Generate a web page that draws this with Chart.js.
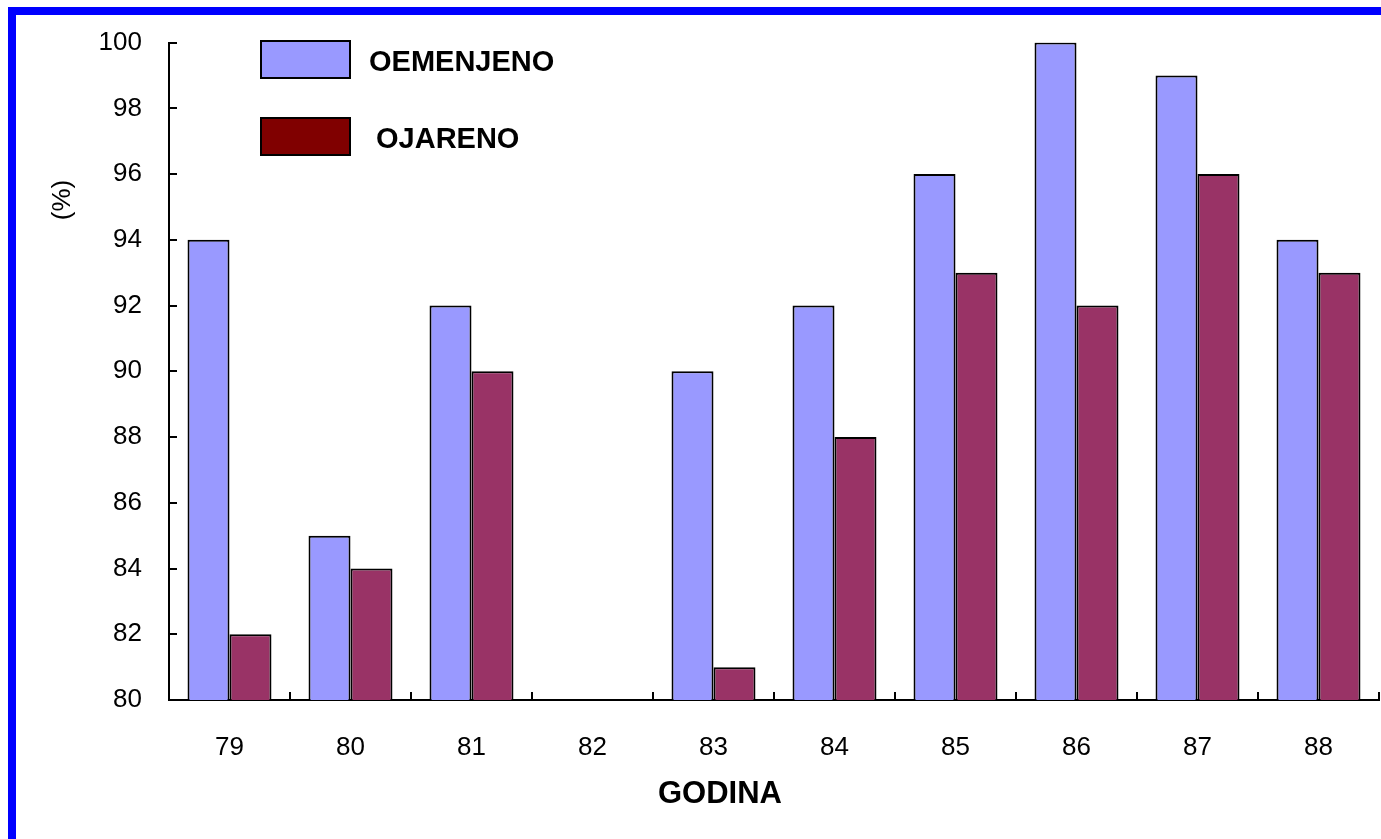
<!DOCTYPE html>
<html>
<head>
<meta charset="utf-8">
<script src="https://cdn.jsdelivr.net/npm/chart.js@4.4.1/dist/chart.umd.min.js"></script>
<style>
    html, body { margin: 0; padding: 0; background: #fff; }
    #wrap { position: relative; width: 1381px; height: 839px; overflow: hidden; }
    #frame {
        position: absolute; left: 8px; top: 7px; right: -20px; bottom: -20px;
        border-top: 8px solid #0000ff; border-left: 8px solid #0000ff;
        pointer-events: none;
    }
    canvas { position: absolute; left: 0; top: 0; }
</style>
</head>
<body>
<div id="wrap">
    <canvas id="chart" width="1381" height="839"></canvas>
    <div id="frame"></div>
</div>
<script>
// data
const years = ['79', '80', '81', '82', '83', '84', '85', '86', '87', '88'];
const oemenjeno = [94, 85, 92, null, 90, 92, 96, 100, 99, 94];
const ojareno = [82, 84, 90, null, 81, 88, 93, 92, 96, 93];
const seriesNames = ['OEMENJENO', 'OJARENO'];
const barColors = ['#9999ff', '#993366'];
const legendColors = ['#9999ff', '#800000'];
const yTitle = '(%)';
const xTitle = 'GODINA';

const FONT = '"Liberation Sans", Arial, sans-serif';

// inward tick marks, legend boxes and the axis titles, drawn over the chart
const extras = {
    id: 'extras',
    afterDraw(chart) {
        const ctx = chart.ctx;
        const xs = chart.scales.x, ys = chart.scales.y;
        const area = chart.chartArea;
        ctx.save();
        ctx.strokeStyle = '#000';
        ctx.lineWidth = 2;
        ctx.beginPath();
        // y ticks point right, into the plot
        ys.ticks.forEach(t => {
            const y = Math.round(ys.getPixelForValue(t.value));
            ctx.moveTo(area.left, y);
            ctx.lineTo(area.left + 8, y);
        });
        // x ticks sit between categories and point up
        for (let i = 0; i <= years.length; i++) {
            let x;
            if (i === 0) x = area.left;
            else if (i === years.length) x = area.right;
            else x = (xs.getPixelForValue(i - 1) + xs.getPixelForValue(i)) / 2;
            x = Math.round(x);
            ctx.moveTo(x, area.bottom);
            ctx.lineTo(x, area.bottom - 8);
        }
        ctx.stroke();

        chart.data.datasets.forEach((ds, i) => {
            const y = 41 + i * 77;
            ctx.fillStyle = legendColors[i];
            ctx.fillRect(261, y, 89, 37);
            ctx.strokeRect(261, y, 89, 37);
            ctx.fillStyle = '#000';
            ctx.font = 'bold 29px ' + FONT;
            ctx.textBaseline = 'middle';
            ctx.textAlign = 'left';
            ctx.fillText(ds.label, i === 0 ? 369 : 376, y + 22);
        });

        ctx.font = 'bold 31px ' + FONT;
        ctx.textAlign = 'center';
        ctx.fillText(xTitle, 720, 794);

        ctx.translate(63, 200);
        ctx.rotate(-Math.PI / 2);
        ctx.font = '26px ' + FONT;
        ctx.fillText(yTitle, 0, 0);
        ctx.restore();
    }
};

new Chart(document.getElementById('chart'), {
    type: 'bar',
    data: {
        labels: years,
        datasets: [
            {
                label: seriesNames[0],
                data: oemenjeno,
                backgroundColor: barColors[0],
                borderColor: '#000',
                borderWidth: 2
            },
            {
                label: seriesNames[1],
                data: ojareno,
                backgroundColor: barColors[1],
                borderColor: '#000',
                borderWidth: 2
            }
        ]
    },
    options: {
        responsive: false,
        animation: false,
        devicePixelRatio: 1,
        layout: { padding: { left: 0, top: 35, right: 2, bottom: 0 } },
        datasets: { bar: { categoryPercentage: 0.694, barPercentage: 1.0 } },
        plugins: {
            legend: { display: false },
            tooltip: { enabled: false }
        },
        scales: {
            x: {
                offset: true,
                grid: { offset: true, display: false, drawTicks: false },
                border: { display: true, color: '#000', width: 2 },
                ticks: { color: '#000', padding: 32, font: { family: FONT, size: 26 } },
                afterFit(scale) { scale.height = 139; }
            },
            y: {
                min: 80,
                max: 100,
                grid: { display: false, drawTicks: false },
                border: { display: true, color: '#000', width: 2 },
                ticks: { stepSize: 2, color: '#000', padding: 27, font: { family: FONT, size: 26 } },
                afterFit(scale) { scale.width = 169; }
            }
        }
    },
    plugins: [extras]
});
</script>
</body>
</html>
